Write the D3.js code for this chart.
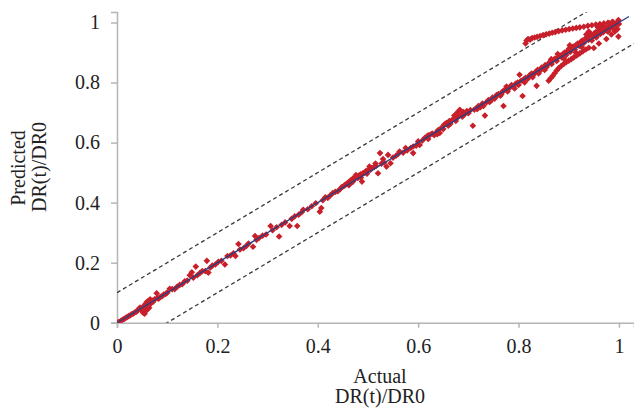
<!DOCTYPE html>
<html>
<head>
  <meta charset="utf-8">
  <title>Predicted vs Actual DR(t)/DR0</title>
  <script src="https://cdn.jsdelivr.net/npm/d3@7"></script>
  <style>
    body { margin: 0; background: #fff; }
    svg { display: block; font-family: "Liberation Serif", "Times New Roman", serif; }
    .axis path, .axis line { stroke: #b5b5b5; stroke-width: 1.5; }
    .axis text { font-size: 20px; fill: #222; font-family: "Liberation Serif", serif; }
    .title { font-size: 20px; fill: #222; }
  </style>
</head>
<body>
<div id="chart"></div>
<script>
  // [actual, predicted] pairs
  var nearOrigin = [
    [0.000,0.000],[0.004,0.003],[0.008,0.006],[0.011,0.010],[0.014,0.012],[0.017,0.016],[0.020,0.018],
    [0.023,0.022],[0.026,0.024],[0.029,0.028],[0.032,0.030],[0.035,0.034],[0.038,0.036],[0.041,0.040],
    [0.044,0.047],[0.046,0.050],[0.048,0.045],[0.050,0.040],[0.052,0.033],[0.053,0.055],[0.055,0.030],
    [0.056,0.048],[0.057,0.062],[0.058,0.040],[0.059,0.068],[0.060,0.055],[0.061,0.045],[0.062,0.072],
    [0.063,0.060],[0.064,0.050],[0.065,0.070],[0.066,0.078],[0.068,0.065],[0.070,0.074],[0.072,0.070],
    [0.075,0.078],[0.079,0.098],[0.080,0.082],[0.083,0.080],[0.086,0.086],[0.090,0.088],[0.093,0.094],
    [0.097,0.096]
  ];
  var lowRange = [
    [0.100,0.100],[0.105,0.113],[0.110,0.112],[0.115,0.112],[0.120,0.120],[0.125,0.126],[0.130,0.128],
    [0.135,0.138],[0.140,0.140],[0.145,0.158],[0.149,0.168],[0.152,0.150],[0.157,0.187],[0.160,0.158],
    [0.165,0.165],[0.170,0.172],[0.176,0.172],[0.179,0.206],[0.182,0.167],[0.186,0.184],[0.190,0.190],
    [0.196,0.194],[0.202,0.203],[0.208,0.206],[0.215,0.194],[0.220,0.222],[0.226,0.224],[0.232,0.231],
    [0.236,0.222],[0.242,0.262],[0.245,0.244],[0.252,0.248],[0.258,0.256],[0.262,0.264],[0.271,0.253],
    [0.275,0.289],[0.278,0.276],[0.283,0.282],[0.290,0.290],[0.297,0.294],[0.306,0.322],[0.310,0.308],
    [0.318,0.318],[0.323,0.287],[0.328,0.326],[0.335,0.334],[0.344,0.322],[0.348,0.346],[0.354,0.354],
    [0.359,0.322],[0.362,0.360],[0.368,0.368],[0.371,0.376],[0.380,0.378],[0.388,0.388],[0.396,0.398],
    [0.404,0.370],[0.407,0.382]
  ];
  var midRange = [
    [0.410,0.408],[0.415,0.418],[0.420,0.416],[0.425,0.424],[0.430,0.432],[0.435,0.436],[0.440,0.438],
    [0.445,0.446],[0.448,0.452],[0.452,0.455],[0.455,0.460],[0.458,0.462],[0.460,0.466],[0.463,0.470],
    [0.466,0.474],[0.468,0.468],[0.470,0.480],[0.472,0.476],[0.475,0.484],[0.478,0.486],[0.480,0.482],
    [0.482,0.490],[0.485,0.494],[0.488,0.470],[0.490,0.498],[0.493,0.500],[0.496,0.505],[0.500,0.508],
    [0.505,0.510],[0.508,0.515],[0.512,0.518],[0.516,0.522],[0.520,0.498],[0.524,0.565],[0.527,0.530],
    [0.532,0.534],[0.537,0.520],[0.540,0.559],[0.545,0.531],[0.550,0.550],[0.556,0.556],[0.563,0.570],
    [0.570,0.566],[0.578,0.574],[0.585,0.582],[0.590,0.565],[0.590,0.587],[0.596,0.590],[0.603,0.592],
    [0.608,0.606],[0.613,0.615],[0.617,0.620],[0.620,0.612],[0.624,0.626],[0.628,0.630],[0.632,0.625],
    [0.636,0.634],[0.640,0.642],[0.643,0.632],[0.647,0.650],[0.650,0.645],[0.656,0.665],[0.660,0.656],
    [0.664,0.662],[0.668,0.676],[0.672,0.690],[0.675,0.672],[0.678,0.700],[0.680,0.686],[0.683,0.709],
    [0.686,0.692],[0.690,0.702],[0.693,0.695],[0.697,0.705],[0.700,0.698],
    [0.462,0.458],[0.470,0.470],[0.476,0.492],[0.486,0.484],[0.498,0.496],[0.503,0.520],[0.515,0.530],
    [0.530,0.545],[0.560,0.562],[0.575,0.582],[0.600,0.604],[0.620,0.624],[0.638,0.628],[0.652,0.660],
    [0.662,0.672],[0.676,0.685],[0.688,0.686]
  ];
  var highRange = [
    [0.704,0.708],[0.709,0.656],[0.712,0.710],[0.716,0.714],[0.720,0.722],[0.724,0.718],[0.728,0.730],
    [0.733,0.690],[0.736,0.734],[0.740,0.742],[0.744,0.738],[0.748,0.750],[0.752,0.746],[0.756,0.758],
    [0.760,0.762],[0.764,0.756],[0.768,0.770],[0.770,0.722],[0.772,0.775],[0.776,0.787],[0.779,0.778],
    [0.783,0.784],[0.786,0.792],[0.790,0.786],[0.794,0.796],[0.798,0.800],[0.802,0.826],[0.805,0.806],
    [0.808,0.755],[0.810,0.810],[0.814,0.816],[0.818,0.812],[0.822,0.824],[0.826,0.830],[0.830,0.826],
    [0.834,0.836],[0.836,0.789],[0.838,0.842],[0.842,0.838],[0.846,0.850],[0.850,0.846],[0.853,0.858],
    [0.856,0.852],[0.860,0.864],[0.863,0.870],[0.866,0.862],[0.870,0.876],[0.873,0.880],[0.876,0.872],
    [0.880,0.886],[0.883,0.890],[0.886,0.884],[0.889,0.896],[0.892,0.900],[0.895,0.892],[0.898,0.906],
    [0.900,0.912],[0.903,0.902],[0.906,0.916],[0.909,0.920],[0.912,0.910],[0.915,0.926],[0.918,0.930],
    [0.921,0.922],[0.924,0.936],[0.927,0.940],[0.930,0.932],[0.933,0.946],[0.936,0.950],[0.939,0.942],
    [0.942,0.956],[0.945,0.960],[0.948,0.952],[0.951,0.964],[0.954,0.968],[0.957,0.958],[0.960,0.972],
    [0.963,0.962],[0.966,0.976],[0.969,0.968],[0.972,0.980],[0.975,0.974],[0.978,0.984],[0.981,0.978],
    [0.984,0.990],[0.987,0.982],[0.990,0.994],[0.993,0.988],[0.996,1.000],[0.999,1.008],[1.000,0.995],
    [0.999,0.953],[0.950,0.915],[0.960,0.930],[0.975,0.945],[0.985,0.960],[0.992,0.970],[0.970,0.990],
    [0.980,0.998],[0.988,1.002],[0.940,0.970],[0.958,0.984],
    [0.718,0.712],[0.730,0.722],[0.742,0.735],[0.754,0.750],[0.766,0.762],[0.778,0.770],[0.792,0.780],
    [0.800,0.792],[0.812,0.800],[0.820,0.818],[0.828,0.818],[0.840,0.830],[0.852,0.842],[0.865,0.878],
    [0.878,0.895],[0.890,0.880],[0.902,0.924],[0.914,0.900],[0.926,0.918],[0.935,0.960],[0.946,0.940],
    [0.955,0.950],[0.965,0.985],[0.978,0.970],[0.990,0.985],[0.997,0.978]
  ];
  var lowerBranch = [
    [0.860,0.806],[0.864,0.814],[0.868,0.822],[0.872,0.831],[0.876,0.840],[0.880,0.848],[0.885,0.855],
    [0.890,0.862],[0.895,0.868],[0.900,0.873],[0.905,0.878],[0.910,0.884],[0.916,0.890],[0.922,0.897],
    [0.928,0.904],[0.934,0.910],[0.940,0.916]
  ];
  var upperBranch = [
    [0.814,0.930],[0.816,0.940],[0.819,0.945],[0.823,0.943],[0.827,0.948],[0.832,0.950],[0.837,0.952],
    [0.843,0.955],[0.849,0.958],[0.855,0.961],[0.861,0.963],[0.867,0.966],[0.873,0.968],[0.880,0.971],
    [0.887,0.974],[0.894,0.976],[0.901,0.978],[0.908,0.980],[0.915,0.982],[0.922,0.984],[0.930,0.986],
    [0.938,0.989],[0.946,0.991],[0.954,0.993],[0.962,0.995],[0.970,0.997],[0.978,0.999],[0.986,1.001]
  ];

  var tickValues = [0, 0.2, 0.4, 0.6, 0.8, 1];
  var tickLabels = ["0", "0.2", "0.4", "0.6", "0.8", "1"];
  var bandOffsets = [0.1, -0.1];   // dashed +/- 0.1 lines
  var lineExtent = [0, 1.03];

  var points = [].concat(nearOrigin, lowRange, midRange, highRange, lowerBranch, upperBranch);

  var width = 634, height = 409;
  var x = d3.scaleLinear().domain([0, 1.03]).range([117, 634]);
  var y = d3.scaleLinear().domain([0, 1.035]).range([322.7, 12]);

  var svg = d3.select("#chart").append("svg")
    .attr("width", width)
    .attr("height", height);

  svg.append("defs").append("clipPath").attr("id", "plot")
    .append("rect")
    .attr("x", x(0)).attr("y", y(1.035))
    .attr("width", x(1.03) - x(0)).attr("height", y(0) - y(1.035));

  var fmt = function (d) { return tickLabels[tickValues.indexOf(d)]; };

  svg.append("g")
    .attr("class", "axis")
    .attr("transform", "translate(0," + y(0) + ")")
    .call(d3.axisBottom(x).tickValues(tickValues).tickFormat(fmt).tickSizeOuter(0).tickSize(5).tickPadding(11));

  svg.append("g")
    .attr("class", "axis")
    .attr("transform", "translate(" + x(0) + ",0)")
    .call(d3.axisLeft(y).tickValues(tickValues).tickFormat(fmt).tickSizeOuter(0).tickSize(6).tickPadding(11));

  var plot = svg.append("g").attr("clip-path", "url(#plot)");

  var line = d3.line()
    .x(function (d) { return x(d[0]); })
    .y(function (d) { return y(d[1]); });

  bandOffsets.forEach(function (o) {
    plot.append("path")
      .datum(lineExtent.map(function (v) { return [v, v + o]; }))
      .attr("d", line)
      .style("fill", "none")
      .style("stroke", "#3a3a3a")
      .style("stroke-width", 1.3)
      .style("stroke-dasharray", "4,3");
  });

  plot.selectAll(".pt")
    .data(points)
    .enter().append("path")
    .attr("class", "pt")
    .attr("d", d3.symbol().type(d3.symbolSquare).size(22))
    .attr("transform", function (d) { return "translate(" + x(d[0]) + "," + y(d[1]) + ") rotate(45)"; })
    .style("fill", "#c8202b");

  // y = x line sits on top of the markers
  plot.append("path")
    .datum([[0, 0], [1.02, 1.02]])
    .attr("d", line)
    .style("fill", "none")
    .style("stroke", "#2b3f80")
    .style("stroke-width", 1.4);

  // axis titles
  svg.append("text").attr("class", "title")
    .attr("x", 380).attr("y", 383).attr("text-anchor", "middle").text("Actual");
  svg.append("text").attr("class", "title")
    .attr("x", 380).attr("y", 403).attr("text-anchor", "middle").text("DR(t)/DR0");

  svg.append("text").attr("class", "title")
    .attr("transform", "translate(25,168) rotate(-90)").attr("text-anchor", "middle").text("Predicted");
  svg.append("text").attr("class", "title")
    .attr("transform", "translate(46,167) rotate(-90)").attr("text-anchor", "middle").text("DR(t)/DR0");
</script>
</body>
</html>
